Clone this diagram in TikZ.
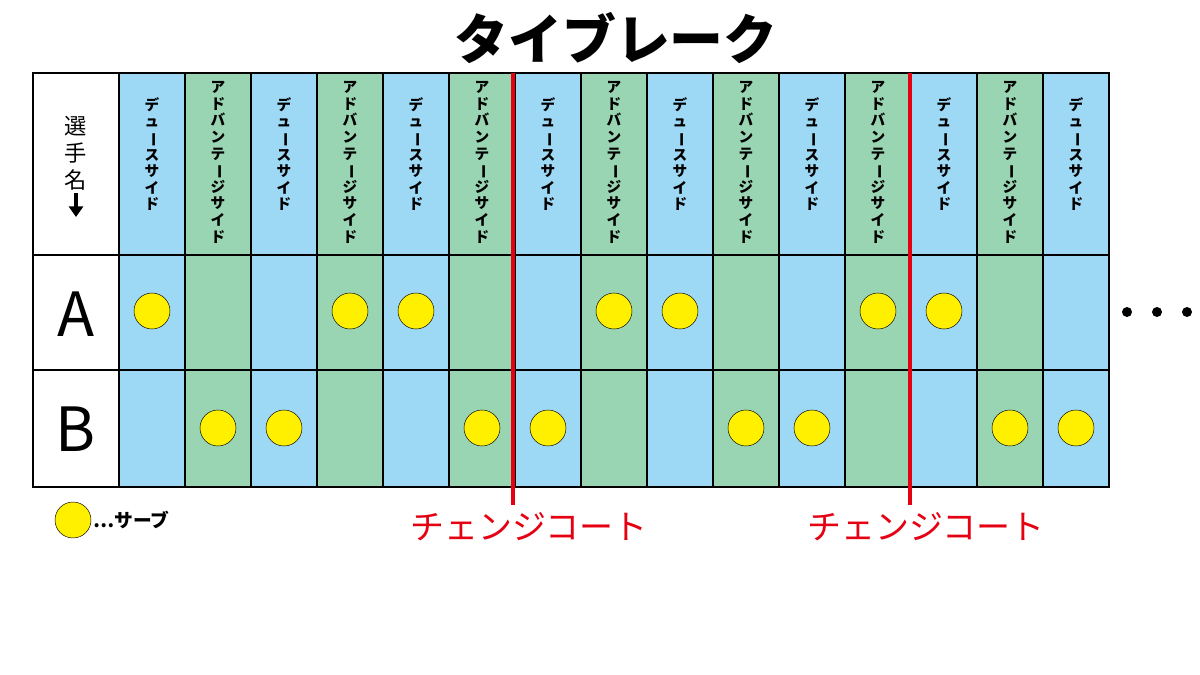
\documentclass[tikz,border=0pt]{standalone}
\usepackage{fontspec}
\usepackage{graphicx}
\setmainfont{Noto Sans CJK JP}
\newfontfamily\jpbold{Noto Sans CJK JP}[FakeBold=2]
\usetikzlibrary{arrows.meta, positioning}
\definecolor{deuceblue}{HTML}{9DD9F5}
\definecolor{advgreen}{HTML}{99D5B2}
\definecolor{serveyellow}{HTML}{FFF000}
\definecolor{courtred}{HTML}{E50012}
\newcommand{\vbar}{\rotatebox[origin=c]{-90}{ー}}
\tikzset{
  cell/.style={draw, line width=1.6pt},
  serve/.style={circle, draw, fill=serveyellow, minimum size=36\unitpx, inner sep=0pt},
  vtext/.style={align=center, font=\fontsize{12.5}{14.2}\selectfont\bfseries, anchor=north, inner sep=0pt},
}
\newlength{\unitpx}
\setlength{\unitpx}{0.03cm}
\begin{document}
\begin{tikzpicture}[x=0.03cm, y=-0.03cm]
\useasboundingbox (0,0) rectangle (1200,675);
% title
\node[font=\fontsize{46}{50}\selectfont\bfseries] (title) at (616,38) {タイブレーク};
% name column
\draw[cell, fill=white] (33,73) rectangle (119,255);
\draw[cell, fill=white] (33,255) rectangle (119,370);
\draw[cell, fill=white] (33,370) rectangle (119,487);
\node[align=center, font=\fontsize{19}{23}\selectfont, anchor=north, inner sep=0pt] (head) at (76,116) {選\\手\\名};
\coordinate (arrS) at (76,193);
\coordinate (arrE) at (76,217);
\draw[line width=3.5pt, -{Triangle[length=9pt,width=12pt]}] (arrS) -- (arrE);
\node[font=\fontsize{52}{56}\selectfont] (nameA) at (76,314) {A};
\node[font=\fontsize{52}{56}\selectfont] (nameB) at (76,429) {B};
% columns
\foreach \i in {0,...,14}{
  \pgfmathsetmacro{\xl}{119+66*\i}
  \pgfmathsetmacro{\xr}{min(119+66*(\i+1),1110)}
  \pgfmathsetmacro{\xm}{119+66*\i+33}
  \ifodd\i
    \draw[cell, fill=advgreen] (\xl,73) rectangle (\xr,255);
    \draw[cell, fill=advgreen] (\xl,255) rectangle (\xr,370);
    \draw[cell, fill=advgreen] (\xl,370) rectangle (\xr,487);
    \node[vtext] (side\i) at (\xm,81) {ア\\ド\\バ\\ン\\テ\\\vbar\\ジ\\サ\\イ\\ド};
  \else
    \draw[cell, fill=deuceblue] (\xl,73) rectangle (\xr,255);
    \draw[cell, fill=deuceblue] (\xl,255) rectangle (\xr,370);
    \draw[cell, fill=deuceblue] (\xl,370) rectangle (\xr,487);
    \node[vtext] (side\i) at (\xm,97) {デ\\ュ\\\vbar\\ス\\サ\\イ\\ド};
  \fi
}
% serves
\foreach \i in {0,3,4,7,8,11,12}{
  \node[serve] (sa\i) at (152+66*\i,311) {};
}
\foreach \i in {1,2,5,6,9,10,13,14}{
  \node[serve] (sb\i) at (152+66*\i,428) {};
}
% change court
\coordinate (c1top) at (513,73);
\coordinate (c1bot) at (513,505);
\coordinate (c2top) at (910,73);
\coordinate (c2bot) at (910,505);
\draw[courtred, line width=3.5pt] (c1top) -- (c1bot);
\draw[courtred, line width=3.5pt] (c2top) -- (c2bot);
\node[text=courtred, font=\fontsize{29}{32}\selectfont] (cc1) at (529,527) {チェンジコート};
\node[text=courtred, font=\fontsize{29}{32}\selectfont] (cc2) at (926,527) {チェンジコート};
% more
\foreach \k in {0,1,2}{
  \node[circle, fill=black, minimum size=10\unitpx, inner sep=0pt] (dot\k) at (1127+30*\k,312) {};
}
% legend
\node[serve] (key) at (73,520) {};
\node[right=2\unitpx of key, font=\fontsize{16}{18}\selectfont\bfseries, inner sep=0pt] (keytext) {…サーブ};
\end{tikzpicture}
\end{document}
